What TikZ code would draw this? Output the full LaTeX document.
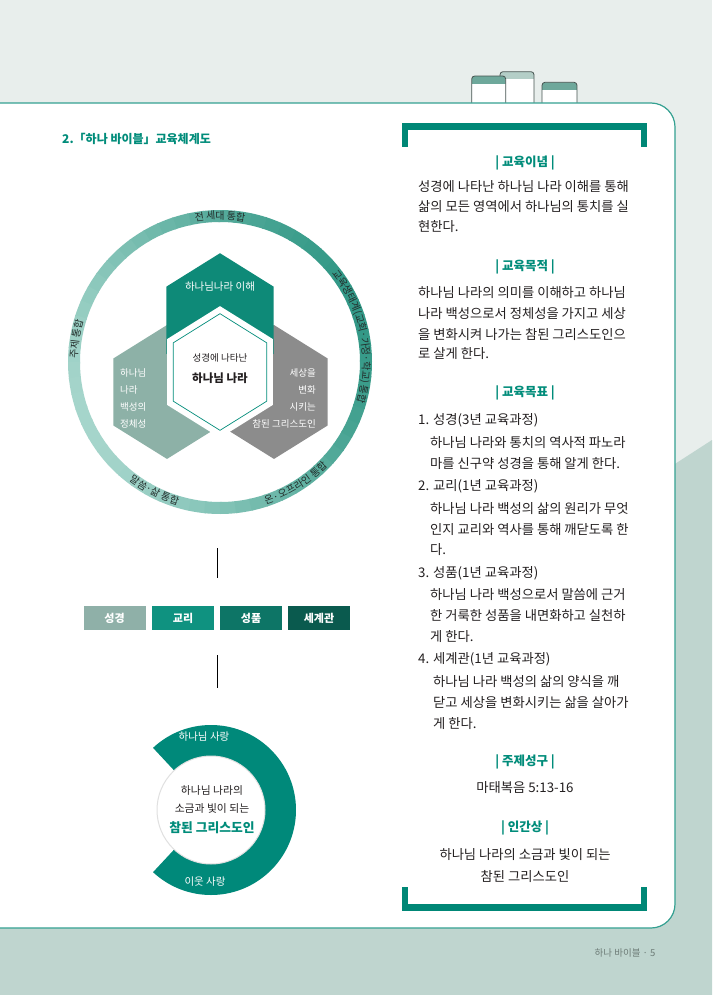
\documentclass[tikz,border=0pt]{standalone}
\usepackage{fontspec}
\setmainfont{Noto Sans CJK KR}
\usepackage{tikz}
\usetikzlibrary{calc,decorations.text}
\definecolor{PageLight}{RGB}{232,238,236}
\definecolor{PageDark}{RGB}{191,213,207}
\definecolor{CardLine}{RGB}{52,160,145}
\definecolor{TabEdge}{RGB}{70,84,80}
\definecolor{TabTeal}{RGB}{110,168,155}
\definecolor{TabPale}{RGB}{180,206,199}
\definecolor{BracketTeal}{RGB}{0,135,118}
\definecolor{HeadTeal}{RGB}{0,140,122}
\definecolor{BodyInk}{RGB}{35,31,32}
\definecolor{RingLight}{RGB}{165,213,203}
\definecolor{RingDark}{RGB}{50,152,134}
\definecolor{RingInk}{RGB}{35,45,43}
\definecolor{HexTop}{RGB}{14,138,120}
\definecolor{HexLeft}{RGB}{141,177,167}
\definecolor{HexRight}{RGB}{140,140,140}
\definecolor{BoxBible}{RGB}{143,176,168}
\definecolor{BoxDoctrine}{RGB}{15,146,128}
\definecolor{BoxCharacter}{RGB}{13,117,102}
\definecolor{BoxWorldview}{RGB}{10,90,78}
\definecolor{LoveTeal}{RGB}{0,137,122}
\definecolor{FootInk}{RGB}{110,125,120}
\newcommand{\ringfont}{\fontsize{10}{10}\selectfont\color{RingInk}}

\begin{document}
\begin{tikzpicture}[x=1pt,y=1pt,
  body/.style={font=\fontsize{13.3}{16}\selectfont,color=BodyInk,anchor=west,inner sep=0pt},
  centred/.style={font=\fontsize{13.3}{16}\selectfont,color=BodyInk,inner sep=0pt},
  heading/.style={font=\fontsize{12.5}{15}\selectfont\bfseries,color=HeadTeal,inner sep=0pt},
  ringlabel/.style={decorate,decoration={text along path,text align=center,raise=-3.4pt,text={#1}}},
  hextext/.style={font=\fontsize{9.5}{17}\selectfont,color=white,inner sep=0pt},
  levelbox/.style={minimum width=62pt,minimum height=24pt,inner sep=0pt,text=white,font=\fontsize{11}{13}\selectfont\bfseries},
  bracket/.style={BracketTeal,line width=6.5pt,line join=miter},
  link/.style={black,line width=0.9pt}]
  % page: 712 x 995, one unit = one pixel of the layout, y runs downwards
  \useasboundingbox (0,0) rectangle (712,-995);
  \fill[PageLight] (0,0) rectangle (712,-995);
  \fill[PageDark] (0,-900) -- (712,-440) -- (712,-995) -- (0,-995) -- cycle;

  % folder tabs behind the card
  \foreach \tx/\ty/\tw/\hd/\col in {500/71.7/34/79/TabPale, 471.7/76/34/84/TabTeal, 542/82.3/35/90/TabTeal}{
    \begin{scope}
      \clip[rounded corners=3pt] (\tx,-110) -- (\tx,-\ty) -- (\tx+\tw,-\ty) -- (\tx+\tw,-110) -- cycle;
      \fill[white] (\tx,-110) rectangle (\tx+\tw,-\ty);
      \fill[\col] (\tx,-\hd) rectangle (\tx+\tw,-\ty);
    \end{scope}
    \draw[TabEdge,line width=0.8pt,rounded corners=3pt] (\tx,-103) -- (\tx,-\ty) -- (\tx+\tw,-\ty) -- (\tx+\tw,-103);
  }

  % white card
  \filldraw[fill=white,draw=CardLine,line width=1.2pt,rounded corners=24pt] (-10,-103) -- (675,-103) -- (675,-928) -- (-10,-928);

  % title
  \node[anchor=west,inner sep=0pt,font=\fontsize{12}{14}\selectfont\bfseries,color=HeadTeal] (title) at (62,-139) {2.「하나 바이블」교육체계도};

  % outer ring, light at lower left, dark at right
  \foreach \ang in {0,6,...,354}{
    \pgfmathtruncatemacro{\w}{50+50*cos(\ang-20)}
    \draw[line width=12pt,RingDark!\w!RingLight] (220,-362) ++(\ang:146) arc[start angle=\ang,end angle=\ang+6.6,radius=146];
  }
  \path[ringlabel={|\ringfont|전 세대 통합}] (220,-362) ++(115:146) arc[start angle=115,end angle=65,radius=146];
  \path[ringlabel={|\ringfont|교육생태계(교회·가정·학교) 통합}] (220,-362) ++(44:146) arc[start angle=44,end angle=-22,radius=146];
  \path[ringlabel={|\ringfont|온·오프라인 통합}] (220,-362) ++(-84:146) arc[start angle=-84,end angle=-32,radius=146];
  \path[ringlabel={|\ringfont|말씀·삶 통합}] (220,-362) ++(-142:146) arc[start angle=-142,end angle=-92,radius=146];
  \path[ringlabel={|\ringfont|주제 통합}] (220,-362) ++(194:146) arc[start angle=194,end angle=148,radius=146];

  % hexagons
  \begin{scope}[shift={(220,-372)},yscale=1.08]
    \foreach \hx/\hy/\col in {-53/-18.5/HexLeft, 54/-18.5/HexRight, 0/48/HexTop}{
      \fill[\col] (\hx,\hy) ++(0,62) -- ++(210:62) -- ++(270:62) -- ++(330:62) -- ++(30:62) -- ++(90:62) -- cycle;
    }
    \fill[white] (0,0) ++(0,61) -- ++(210:61) -- ++(270:61) -- ++(330:61) -- ++(30:61) -- ++(90:61) -- cycle;
    \draw[HeadTeal,line width=0.7pt] (0,0) ++(0,54) -- ++(210:54) -- ++(270:54) -- ++(330:54) -- ++(30:54) -- ++(90:54) -- cycle;
  \end{scope}
  \node[hextext,font=\fontsize{10.5}{12}\selectfont] (understand) at (220,-287) {하나님나라 이해};
  \node[hextext,anchor=west,align=left] (identity) at (120,-398) {하나님\\나라\\백성의\\정체성};
  \node[hextext,anchor=east,align=right] (transform) at (316,-398) {세상을\\변화\\시키는\\참된 그리스도인};
  \node[inner sep=0pt,color=BodyInk,font=\fontsize{9.5}{11}\selectfont] (coreA) at (220,-358) {성경에 나타난};
  \node[inner sep=0pt,color=BodyInk,font=\fontsize{11.5}{13}\selectfont\bfseries] (coreB) at (220,-378) {하나님 나라};

  % stems and curriculum boxes
  \coordinate (stemA) at (217,-548);
  \coordinate (stemB) at (217,-578);
  \draw[link] (stemA) -- (stemB);
  \foreach \bx/\lbl/\col/\nm in {114.5/성경/BoxBible/bible, 183/교리/BoxDoctrine/doctrine, 251/성품/BoxCharacter/character, 319/세계관/BoxWorldview/worldview}{
    \node[levelbox,fill=\col] (\nm) at (\bx,-618) {\lbl};
  }
  \coordinate (stemC) at (217,-655);
  \coordinate (stemD) at (217,-688);
  \draw[link] (stemC) -- (stemD);

  % love ring with the person in the middle
  \coordinate (heart) at (211,-810);
  \fill[LoveTeal] (heart) ++(133:85) arc[start angle=133,end angle=-133,radius=85] -- ($(heart)+(-133:54)$) arc[start angle=-133,end angle=133,radius=54] -- cycle;
  \filldraw[fill=white,draw=black!12,line width=1pt] (heart) circle[radius=54];
  \node[inner sep=0pt,text=white,font=\fontsize{10.5}{12}\selectfont] (loveGod) at (204,-737) {하나님 사랑};
  \node[inner sep=0pt,text=white,font=\fontsize{10.5}{12}\selectfont] (loveNeighbour) at (205,-882) {이웃 사랑};
  \node[inner sep=0pt,color=BodyInk,font=\fontsize{10.8}{12}\selectfont] (saltA) at (212,-790) {하나님 나라의};
  \node[inner sep=0pt,color=BodyInk,font=\fontsize{10.8}{12}\selectfont] (saltB) at (212,-808) {소금과 빛이 되는};
  \node[inner sep=0pt,color=HeadTeal,font=\fontsize{12.8}{14}\selectfont\bfseries] (saltC) at (212,-828) {참된 그리스도인};

  % right column frame
  \draw[bracket] (405,-147) -- (405,-126.5) -- (644,-126.5) -- (644,-147);
  \draw[bracket] (405,-887) -- (405,-907.5) -- (644,-907.5) -- (644,-887);

  % headings
  \foreach \yy/\txt [count=\i] in {163/교육이념, 267/교육목적, 393/교육목표, 762/주제성구, 828/인간상}{
    \node[heading] (head\i) at (525,-\yy) {|\ \txt\ |};
  }
  % body lines: y / x / text
  \foreach \yy/\xx/\txt [count=\i] in {
    187/418/성경에 나타난 하나님 나라 이해를 통해,
    207/418/삶의 모든 영역에서 하나님의 통치를 실,
    227/418/현한다.,
    293/418/하나님 나라의 의미를 이해하고 하나님,
    314/418/나라 백성으로서 정체성을 가지고 세상,
    334/418/을 변화시켜 나가는 참된 그리스도인으,
    354/418/로 살게 한다.,
    420/418/1. 성경(3년 교육과정),
    443/430/하나님 나라와 통치의 역사적 파노라,
    464/430/마를 신구약 성경을 통해 알게 한다.,
    486/418/2. 교리(1년 교육과정),
    509/430/하나님 나라 백성의 삶의 원리가 무엇,
    530/430/인지 교리와 역사를 통해 깨닫도록 한,
    550/430/다.,
    573/418/3. 성품(1년 교육과정),
    595/430/하나님 나라 백성으로서 말씀에 근거,
    616/430/한 거룩한 성품을 내면화하고 실천하,
    637/430/게 한다.,
    659/418/4. 세계관(1년 교육과정),
    682/433/하나님 나라 백성의 삶의 양식을 깨,
    703/433/닫고 세상을 변화시키는 삶을 살아가,
    724/433/게 한다.}{
    \node[body] (line\i) at (\xx,-\yy) {\txt};
  }
  \node[centred] (verse) at (525,-788) {마태복음 5:13-16};
  \node[centred] (imageA) at (525,-855) {하나님 나라의 소금과 빛이 되는};
  \node[centred] (imageB) at (525,-876) {참된 그리스도인};

  % folio
  \node[inner sep=0pt,color=FootInk,font=\fontsize{9.5}{11}\selectfont] (folio) at (625,-953) {하나 바이블 · 5};
\end{tikzpicture}
\end{document}
